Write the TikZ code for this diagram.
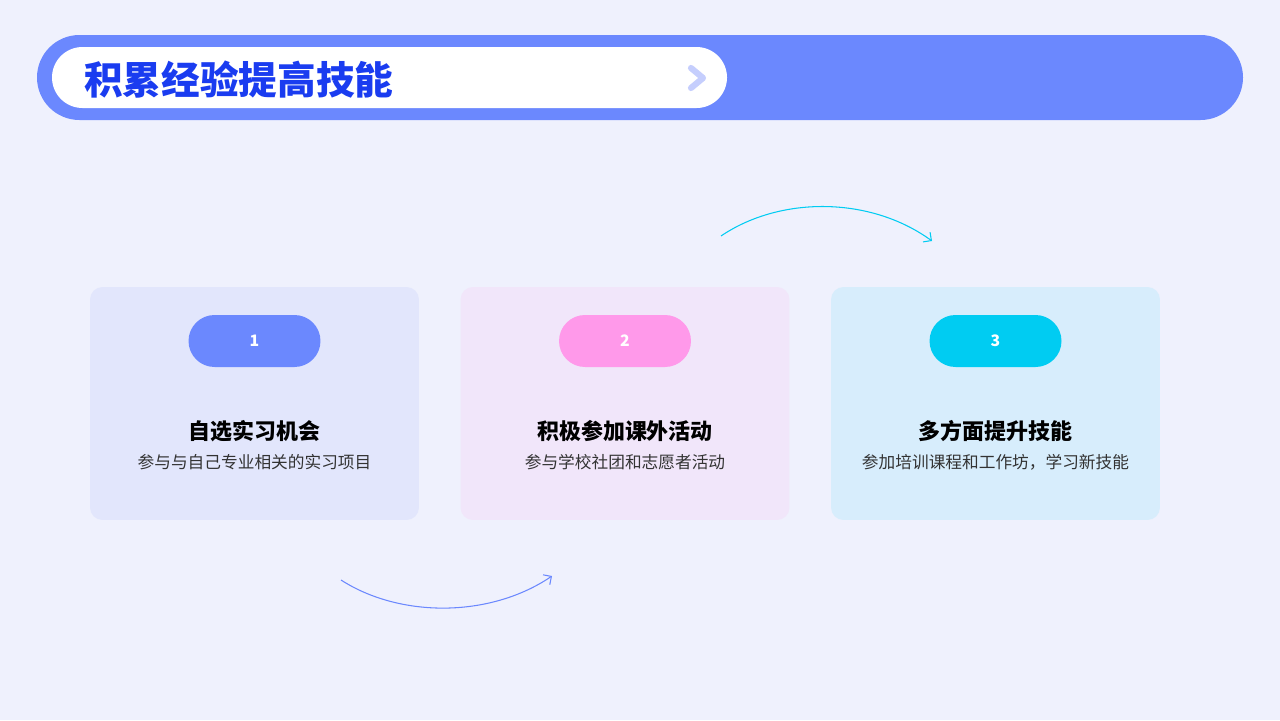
\documentclass[tikz,border=0pt]{standalone}
\usepackage{fontspec}
\setmainfont{Noto Sans CJK SC}
\usetikzlibrary{positioning,arrows.meta}
\definecolor{bgcol}{HTML}{EFF1FD}
\definecolor{barblue}{HTML}{6B88FE}
\definecolor{titleblue}{HTML}{1A3CF0}
\definecolor{chev}{HTML}{C5CEFD}
\definecolor{cardA}{HTML}{E2E6FC}
\definecolor{cardB}{HTML}{F1E6FA}
\definecolor{cardC}{HTML}{D7EDFC}
\definecolor{pillB}{HTML}{FF99EA}
\definecolor{pillC}{HTML}{00CCF2}
\definecolor{subgray}{HTML}{333333}
\begin{document}
\begin{tikzpicture}[
    x=0.02cm, y=-0.02cm,
    card/.style={rounded corners=0.25cm, minimum width=6.58cm, minimum height=4.66cm, inner sep=0pt},
    pill/.style={rounded corners=0.52cm, minimum width=2.64cm, minimum height=1.04cm, inner sep=0pt, text=white, font=\fontsize{9}{10}\selectfont\bfseries},
    headline/.style={font=\fontsize{12.5}{14}\selectfont\bfseries, text=black},
    subline/.style={font=\fontsize{9.5}{11}\selectfont, text=subgray},
    arc/.style={-{Straight Barb[length=1.2mm]}, line width=0.6pt}
]
\useasboundingbox[fill=bgcol] (0,0) rectangle (1280,720);

% title bar
\fill[barblue, rounded corners=0.85cm] (37,35) rectangle (1243,120);
\fill[white, rounded corners=0.61cm] (52,47) rectangle (727,108);
\node[anchor=west, text=titleblue, font=\fontsize{22}{24}\selectfont\bfseries] (title) at (78,80) {积累经验提高技能};
\draw[chev, line width=3.5pt, line cap=round, line join=round] (691,68) -- (703,78) -- (691,88);

% cards
\node[card, fill=cardA] (cardone) at (254.5,403.5) {};
\node[card, fill=cardB] (cardtwo) at (625,403.5) {};
\node[card, fill=cardC] (cardthree) at (995.5,403.5) {};

\node[pill, fill=barblue] (numone) at (254.5,341) {1};
\node[pill, fill=pillB] (numtwo) at (625,341) {2};
\node[pill, fill=pillC] (numthree) at (995.5,341) {3};

\node[headline] (headone) at (254.5,431) {自选实习机会};
\node[subline, below=0pt of headone] (subone) {参与与自己专业相关的实习项目};
\node[headline] (headtwo) at (625,431) {积极参加课外活动};
\node[subline, below=0pt of headtwo] (subtwo) {参与学校社团和志愿者活动};
\node[headline] (headthree) at (995.5,431) {多方面提升技能};
\node[subline, below=0pt of headthree] (subthree) {参加培训课程和工作坊，学习新技能};

% arcs
\coordinate (lowstart) at (341,580);
\coordinate (lowend) at (552,576);
\coordinate (highstart) at (721,236);
\coordinate (highend) at (932,241);
\draw[arc, barblue] (lowstart) .. controls (400,618) and (490,618) .. (lowend);
\draw[arc, pillC] (highstart) .. controls (780,196) and (870,196) .. (highend);

\end{tikzpicture}
\end{document}
